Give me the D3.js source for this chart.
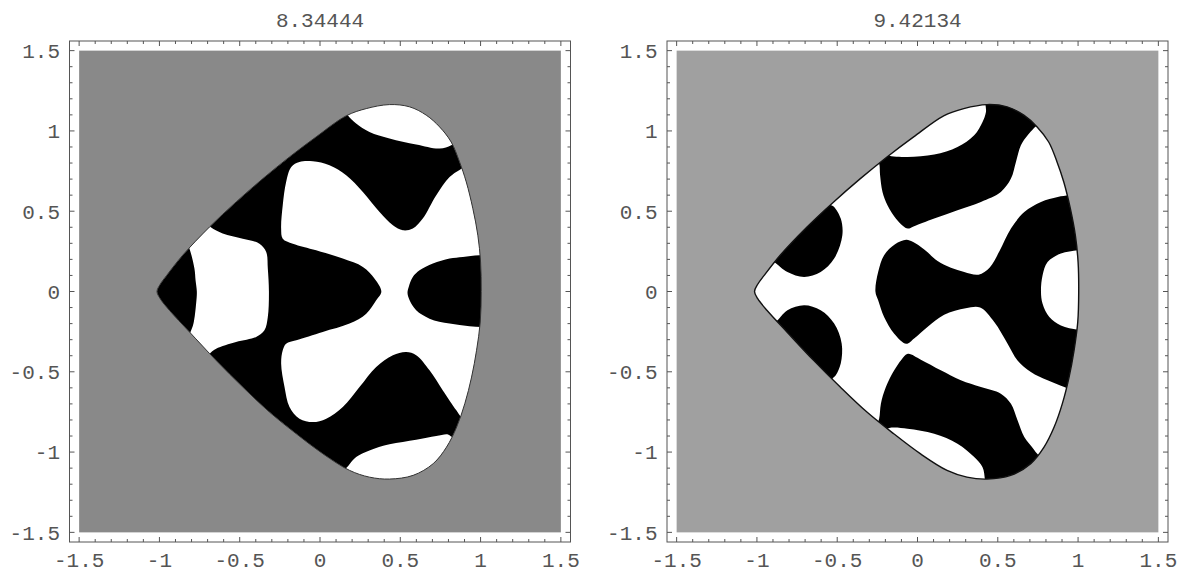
<!DOCTYPE html>
<html>
<head>
<meta charset="utf-8">
<script src="https://cdn.jsdelivr.net/npm/d3@7"></script>
<style>
  body { margin: 0; background: #fff; }
  svg { display: block; }
  text { font-family: "Liberation Mono", "DejaVu Sans Mono", monospace; fill: #555; }
</style>
</head>
<body>
<svg id="chart" width="1182" height="573"></svg>
<script>
// Eigenvalue labels of the two nodal-domain plots
const titles = ["8.34444", "9.42134"];

// Axis ticks
const tickValues = [-1.5, -1, -0.5, 0, 0.5, 1, 1.5];
const tickLabels = ["-1.5", "-1", "-0.5", "0", "0.5", "1", "1.5"];

// Billiard boundary (closed curve, x/y in plot units)
const boundary = [
  [-1.015, 0], [-0.995, 0.045], [-0.955, 0.10], [-0.855, 0.226], [-0.688, 0.402],
  [-0.522, 0.558], [-0.356, 0.703], [-0.190, 0.838], [-0.024, 0.963], [0.163, 1.094],
  [0.288, 1.139], [0.433, 1.164], [0.558, 1.150], [0.662, 1.098], [0.745, 1.025],
  [0.817, 0.931], [0.869, 0.807], [0.911, 0.682], [0.952, 0.516], [0.983, 0.350],
  [1.000, 0.184], [1.004, 0],
  [0.998, -0.190], [0.975, -0.366], [0.944, -0.533], [0.902, -0.698], [0.851, -0.844],
  [0.788, -0.969], [0.705, -1.072], [0.580, -1.145], [0.433, -1.168], [0.308, -1.156],
  [0.184, -1.114], [0.017, -1.010], [-0.148, -0.886], [-0.315, -0.751], [-0.481, -0.595],
  [-0.647, -0.429], [-0.813, -0.252], [-0.938, -0.117], [-0.995, -0.045]
];

// k = 8.34444: domains drawn in white over a black interior, plus one black lobe
const a_topWhite = [
  [0.14, 1.15], [0.173, 1.098], [0.225, 1.046], [0.308, 0.994], [0.433, 0.953],
  [0.599, 0.915], [0.745, 0.890], [0.817, 0.911], [0.86, 0.94], [0.92, 1.10],
  [0.60, 1.32], [0.30, 1.26]
];
const a_bottomWhite = [
  [0.14, -1.14], [0.178, -1.083], [0.225, -1.031], [0.308, -0.990], [0.433, -0.952],
  [0.599, -0.923], [0.724, -0.900], [0.797, -0.890], [0.82, -0.905], [0.87, -0.94],
  [0.92, -1.10], [0.60, -1.32], [0.30, -1.26]
];
const a_tipWhite = [
  [-0.86, 0.36], [-0.72, 0.44], [-0.68, 0.40], [-0.606, 0.361], [-0.481, 0.329],
  [-0.377, 0.298], [-0.335, 0.246], [-0.325, 0.143], [-0.318, 0], [-0.325, -0.159],
  [-0.346, -0.242], [-0.398, -0.283], [-0.523, -0.314], [-0.647, -0.356], [-0.69, -0.39],
  [-0.72, -0.44], [-0.86, -0.36], [-0.83, -0.30], [-0.809, -0.258], [-0.788, -0.2],
  [-0.771, -0.07], [-0.767, 0], [-0.775, 0.07], [-0.782, 0.143], [-0.813, 0.267], [-0.83, 0.30]
];
const a_crossWhite = [
  [-0.232, 0.329], [-0.242, 0.392], [-0.232, 0.537], [-0.211, 0.682], [-0.179, 0.776],
  [-0.128, 0.807], [-0.045, 0.811], [0.059, 0.786], [0.163, 0.724], [0.267, 0.620],
  [0.371, 0.495], [0.454, 0.412], [0.516, 0.381], [0.578, 0.392], [0.640, 0.454],
  [0.724, 0.599], [0.807, 0.713], [0.869, 0.757], [0.93, 0.79], [1.15, 0.80],
  [1.15, -0.80], [0.93, -0.81], [0.880, -0.782], [0.849, -0.740], [0.765, -0.616],
  [0.682, -0.491], [0.599, -0.397], [0.537, -0.377], [0.454, -0.397], [0.350, -0.470],
  [0.246, -0.595], [0.142, -0.719], [0.039, -0.792], [-0.045, -0.813], [-0.128, -0.792],
  [-0.190, -0.719], [-0.221, -0.595], [-0.242, -0.449], [-0.232, -0.366], [-0.211, -0.325],
  [-0.148, -0.304], [0.017, -0.252], [0.184, -0.200], [0.288, -0.138], [0.350, -0.055],
  [0.382, 0], [0.340, 0.080], [0.267, 0.153], [0.142, 0.205], [-0.024, 0.257],
  [-0.169, 0.298]
];
const a_rightBlack = [
  [1.20, 0.23], [0.994, 0.226], [0.890, 0.215], [0.807, 0.205], [0.703, 0.174],
  [0.620, 0.132], [0.578, 0.090], [0.553, 0.030], [0.545, -0.010], [0.558, -0.055],
  [0.599, -0.117], [0.682, -0.169], [0.807, -0.200], [0.931, -0.217], [1.05, -0.222],
  [1.20, -0.22]
];

// k = 9.42134: black domains over a white interior
const b_upperLeftBlack = [
  [-0.93, 0.20], [-0.893, 0.184], [-0.810, 0.121], [-0.706, 0.090], [-0.603, 0.121],
  [-0.519, 0.205], [-0.468, 0.350], [-0.478, 0.454], [-0.519, 0.526], [-0.540, 0.540],
  [-0.565, 0.585], [-0.75, 0.52], [-0.96, 0.28]
];
const b_lowerLeftBlack = [
  [-0.92, -0.21], [-0.883, -0.190], [-0.810, -0.117], [-0.706, -0.086], [-0.603, -0.117],
  [-0.519, -0.200], [-0.472, -0.325], [-0.478, -0.449], [-0.509, -0.522], [-0.530, -0.543],
  [-0.555, -0.585], [-0.75, -0.52], [-0.96, -0.28]
];
const b_upperBand = [
  [-0.26, 0.83], [-0.239, 0.797], [-0.233, 0.724], [-0.218, 0.620], [-0.187, 0.537],
  [-0.135, 0.454], [-0.092, 0.410], [-0.06, 0.392], [-0.025, 0.405], [0.104, 0.454],
  [0.249, 0.506], [0.395, 0.558], [0.519, 0.620], [0.582, 0.703], [0.613, 0.807],
  [0.644, 0.911], [0.686, 0.973], [0.723, 1.015], [0.77, 1.07], [0.62, 1.30],
  [0.43, 1.21], [0.426, 1.117], [0.405, 1.056], [0.353, 0.973], [0.249, 0.900],
  [0.104, 0.853], [-0.062, 0.838], [-0.187, 0.849], [-0.22, 0.87], [-0.29, 0.89]
];
const b_lowerBand = [
  [-0.10, -0.425], [-0.06, -0.388], [0.021, -0.425], [0.145, -0.491], [0.270, -0.553],
  [0.395, -0.595], [0.519, -0.636], [0.582, -0.699], [0.623, -0.802], [0.665, -0.906],
  [0.728, -0.989], [0.77, -1.06], [0.62, -1.30], [0.42, -1.22], [0.419, -1.166],
  [0.405, -1.094], [0.353, -1.031], [0.249, -0.948], [0.104, -0.886], [-0.062, -0.854],
  [-0.176, -0.850], [-0.22, -0.875], [-0.29, -0.89], [-0.26, -0.845], [-0.239, -0.792],
  [-0.228, -0.699], [-0.197, -0.595], [-0.145, -0.491]
];
const b_centralBlack = [
  [-0.07, 0.323], [-0.03, 0.31], [0.042, 0.262], [0.125, 0.190], [0.208, 0.148],
  [0.291, 0.122], [0.38, 0.105], [0.45, 0.150], [0.51, 0.250], [0.582, 0.392],
  [0.665, 0.495], [0.769, 0.558], [0.873, 0.589], [0.946, 0.599], [1.02, 0.61],
  [1.15, 0.50], [1.15, 0.30], [1.06, 0.265], [0.998, 0.257], [0.893, 0.236],
  [0.810, 0.184], [0.779, 0.101], [0.769, 0.0], [0.779, -0.076], [0.821, -0.159],
  [0.893, -0.211], [0.998, -0.238], [1.06, -0.245], [1.15, -0.30], [1.15, -0.55],
  [0.99, -0.62], [0.914, -0.595], [0.810, -0.553], [0.706, -0.501], [0.623, -0.429],
  [0.561, -0.325], [0.478, -0.190], [0.39, -0.100], [0.30, -0.105], [0.166, -0.145],
  [0.062, -0.221], [-0.021, -0.292], [-0.07, -0.325], [-0.145, -0.263], [-0.208, -0.159],
  [-0.245, -0.055], [-0.262, 0.0], [-0.245, 0.121], [-0.208, 0.226], [-0.140, 0.295]
];

const panels = [
  {
    title: titles[0], left: 69.5, background: "#898989", interior: "#000",
    outline: "#333", outlineWidth: 1,
    domains: [
      { pts: a_topWhite, fill: "#fff" },
      { pts: a_bottomWhite, fill: "#fff" },
      { pts: a_tipWhite, fill: "#fff" },
      { pts: a_crossWhite, fill: "#fff" },
      { pts: a_rightBlack, fill: "#000" }
    ]
  },
  {
    title: titles[1], left: 667, background: "#a0a0a0", interior: "#fff",
    outline: "#111", outlineWidth: 1.4,
    domains: [
      { pts: b_upperLeftBlack, fill: "#000" },
      { pts: b_lowerLeftBlack, fill: "#000" },
      { pts: b_upperBand, fill: "#000" },
      { pts: b_lowerBand, fill: "#000" },
      { pts: b_centralBlack, fill: "#000" }
    ]
  }
];

const svg = d3.select("#chart");
const W = 501, H = 501, TOP = 41;
const pad = 0.06;
const minorTicks = d3.range(-15, 16).map(i => i / 10);

panels.forEach((p, i) => {
  const x = d3.scaleLinear().domain([-1.5 - pad, 1.5 + pad]).range([0, W]);
  const y = d3.scaleLinear().domain([-1.5 - pad, 1.5 + pad]).range([H, 0]);
  const g = svg.append("g").attr("transform", `translate(${p.left},${TOP})`);

  const closed = d3.line()
    .x(d => x(d[0])).y(d => y(d[1]))
    .curve(d3.curveCatmullRomClosed.alpha(0.5));

  // plot region background
  g.append("rect")
    .attr("x", x(-1.5)).attr("y", y(1.5))
    .attr("width", x(1.5) - x(-1.5)).attr("height", y(-1.5) - y(1.5))
    .attr("fill", p.background);

  const clipId = "billiard-" + i;
  g.append("clipPath").attr("id", clipId)
    .append("path").attr("d", closed(boundary));

  const inside = g.append("g").attr("clip-path", `url(#${clipId})`);
  inside.append("path").attr("d", closed(boundary)).attr("fill", p.interior);
  p.domains.forEach(dm => {
    inside.append("path").attr("d", closed(dm.pts)).attr("fill", dm.fill);
  });

  g.append("path").attr("d", closed(boundary))
    .attr("fill", "none").attr("stroke", p.outline).attr("stroke-width", p.outlineWidth);

  // frame
  g.append("rect").attr("x", 0).attr("y", 0).attr("width", W).attr("height", H)
    .attr("fill", "none").attr("stroke", "#555").attr("stroke-width", 1);

  // ticks on all four sides, pointing inward
  const tickG = g.append("g").attr("stroke", "#555").attr("stroke-width", 1);
  const isMajor = v => tickValues.some(t => Math.abs(t - v) < 1e-9);
  minorTicks.forEach(v => {
    const len = isMajor(v) ? 5 : 3;
    const px = x(v), py = y(v);
    tickG.append("line").attr("x1", px).attr("x2", px).attr("y1", H).attr("y2", H - len);
    tickG.append("line").attr("x1", px).attr("x2", px).attr("y1", 0).attr("y2", len);
    tickG.append("line").attr("y1", py).attr("y2", py).attr("x1", 0).attr("x2", len);
    tickG.append("line").attr("y1", py).attr("y2", py).attr("x1", W).attr("x2", W - len);
  });

  // tick labels
  tickValues.forEach((v, k) => {
    g.append("text").attr("x", x(v)).attr("y", H + 25)
      .attr("text-anchor", "middle").attr("font-size", 21).text(tickLabels[k]);
    g.append("text").attr("x", -9.5).attr("y", y(v)).attr("dy", "0.35em")
      .attr("text-anchor", "end").attr("font-size", 21).text(tickLabels[k]);
  });

  // title
  g.append("text").attr("x", W / 2).attr("y", 27 - TOP)
    .attr("text-anchor", "middle").attr("font-size", 21).text(p.title);
});
</script>
</body>
</html>
